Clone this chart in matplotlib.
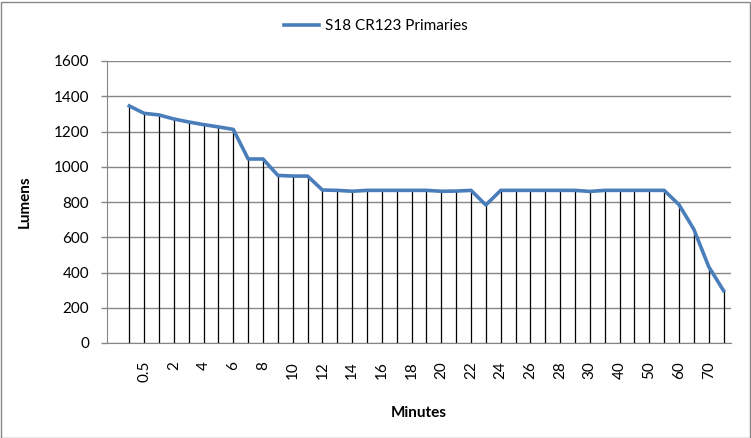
import matplotlib
matplotlib.use("Agg")
import matplotlib.pyplot as plt
from matplotlib.patches import Rectangle

# categories (minutes) and measured output (lumens)
minutes = ["0", "0.5", "1", "2", "3", "4", "5", "6", "7", "8", "9", "10",
           "11", "12", "13", "14", "15", "16", "17", "18", "19", "20", "21",
           "22", "23", "24", "25", "26", "27", "28", "29", "30", "35", "40",
           "45", "50", "55", "60", "65", "70", "75"]
lumens = [1345, 1303, 1294, 1271, 1254, 1239, 1226, 1212, 1044, 1044, 951,
          947, 947, 868, 866, 861, 866, 866, 866, 866, 866, 861, 862, 866,
          783, 866, 866, 866, 866, 866, 866, 860, 866, 866, 866, 866, 866,
          785, 645, 433, 297]
series_name = "S18 CR123 Primaries"
y_ticks = [0, 200, 400, 600, 800, 1000, 1200, 1400, 1600]

plt.rcParams['font.family'] = ['Lato', 'DejaVu Sans']
plt.rcParams['font.size'] = 11

fig = plt.figure(figsize=(7.51, 4.38), dpi=100)
ax = fig.add_axes([107 / 751, 95 / 438, 624 / 751, 282 / 438])

x = list(range(len(minutes)))
grid_col = '#868686'

# drop lines from each point down to the axis
ax.vlines(x, 0, lumens, color='black', linewidth=0.9, zorder=2)
ax.plot(x, lumens, color='#4a7ebb', linewidth=2.6, zorder=3,
        solid_joinstyle='round', label=series_name)

ax.set_xlim(-1.5, len(minutes) - 0.5)
ax.set_ylim(0, 1600)
ax.set_yticks(y_ticks)
ax.yaxis.grid(True, color=grid_col, linewidth=1.0)
ax.set_axisbelow(True)

# every other category gets a label, starting at 0.5
ax.set_xticks(x[1::2])
ax.set_xticklabels(minutes[1::2], rotation=90, va='top', ha='center')
ax.tick_params(axis='x', length=0, pad=13)
ax.tick_params(axis='y', length=4, color=grid_col, width=1, pad=9)

for side in ['top', 'right']:
    ax.spines[side].set_visible(False)
ax.spines['left'].set_color(grid_col)
ax.spines['bottom'].set_color(grid_col)

ax.set_ylabel("Lumens", fontweight='bold')
ax.set_xlabel("Minutes", fontweight='bold')
ax.yaxis.set_label_coords(-(107 - 32) / 624, 0.5)
ax.xaxis.set_label_coords(0.5, -(406 - 343) / 282)

fig.legend(loc='center', bbox_to_anchor=(376 / 751, 1 - 26 / 438),
           frameon=False, handlelength=2.3, handletextpad=0.4)

# chart area border
fig.patches.append(Rectangle((0.5 / 751, 0.5 / 438), 749 / 751, 436 / 438,
                             transform=fig.transFigure, fill=False,
                             edgecolor=grid_col, linewidth=1.0))

fig.savefig("out.png", dpi=100)
